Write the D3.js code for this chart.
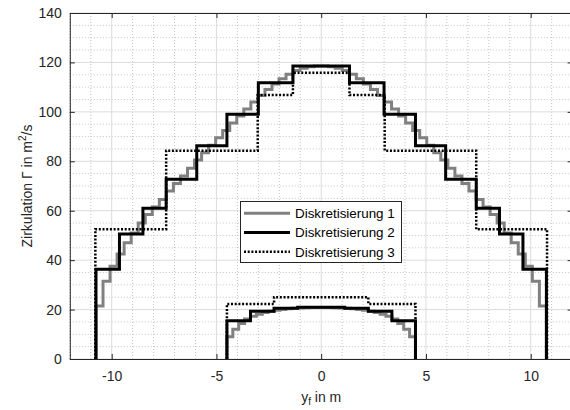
<!DOCTYPE html>
<html>
<head>
<meta charset="utf-8">
<script src="https://cdn.jsdelivr.net/npm/d3@7"></script>
<style>
  html, body { margin: 0; padding: 0; background: #ffffff; }
  svg { display: block; font-family: "Liberation Sans", Arial, Helvetica, sans-serif; }
</style>
</head>
<body>
<svg id="chart" width="570" height="410"></svg>
<script>
// Circulation distribution along the span, three discretisations (panel edges in m, circulation in m^2/s)

// Discretisation 1 – fine panels, main wing
const d1OuterEdges = [-10.75, -10.414, -10.078, -9.742, -9.406, -9.07, -8.734, -8.398, -8.062, -7.726, -7.39,
  -7.054, -6.718, -6.382, -6.046, -5.71, -5.374, -5.038, -4.702, -4.366, -4.03, -3.694, -3.358, -3.022,
  -2.686, -2.35, -2.014, -1.678, -1.342, -1.006, -0.67, -0.334, 0,
  0.334, 0.67, 1.006, 1.342, 1.678, 2.014, 2.35, 2.686, 3.022, 3.358, 3.694, 4.03, 4.366, 4.702, 5.038,
  5.374, 5.71, 6.046, 6.382, 6.718, 7.054, 7.39, 7.726, 8.062, 8.398, 8.734, 9.07, 9.406, 9.742, 10.078,
  10.414, 10.75];
const d1OuterGamma = [21.4, 31.5, 37.5, 42.5, 47, 51, 55, 58.5, 61.5, 64.5, 68, 71, 74, 77.2, 80.5, 83.5,
  86.5, 89.5, 92.5, 95.5, 98.3, 101.2, 104, 106.6, 109, 111.3, 113.4, 115.2, 116.7, 117.6, 118.3, 118.6,
  118.6, 118.3, 117.6, 116.7, 115.2, 113.4, 111.3, 109, 106.6, 104, 101.2, 98.3, 95.5, 92.5, 89.5, 86.5,
  83.5, 80.5, 77.2, 74, 71, 68, 64.5, 61.5, 58.5, 55, 51, 47, 42.5, 37.5, 31.5, 21.4];

// Discretisation 1 – fine panels, inner surface
const d1InnerEdges = [-4.5, -4.219, -3.938, -3.656, -3.375, -3.094, -2.813, -2.531, -2.25, -1.969, -1.688,
  -1.406, -1.125, -0.844, -0.563, -0.281, 0, 0.281, 0.563, 0.844, 1.125, 1.406, 1.688, 1.969, 2.25,
  2.531, 2.813, 3.094, 3.375, 3.656, 3.938, 4.219, 4.5];
const d1InnerGamma = [9.0, 12.0, 14.4, 16.2, 17.3, 18.1, 18.8, 19.3, 19.7, 20.0, 20.3, 20.5, 20.6, 20.7,
  20.8, 20.8, 20.8, 20.8, 20.7, 20.6, 20.5, 20.3, 20.0, 19.7, 19.3, 18.8, 18.1, 17.3, 16.2, 14.4, 12.0, 9.0];

// Discretisation 2
const d2OuterEdges = [-10.75, -9.63, -8.51, -7.40, -5.94, -4.50, -3.00, -1.35, 1.35, 3.00, 4.50, 5.94,
  7.40, 8.51, 9.63, 10.75];
const d2OuterGamma = [36.3, 50.6, 61.0, 72.7, 86.3, 99.0, 111.8, 118.6, 111.8, 99.0, 86.3, 72.7, 61.0,
  50.6, 36.3];
const d2InnerEdges = [-4.5, -3.375, -2.25, -1.125, 0, 1.125, 2.25, 3.375, 4.5];
const d2InnerGamma = [15.5, 19.3, 20.5, 20.9, 20.9, 20.5, 19.3, 15.5];

// Discretisation 3
const d3OuterEdges = [-10.78, -7.40, -3.03, -1.35, 1.35, 3.03, 7.40, 10.78];
const d3OuterGamma = [52.5, 84.3, 106.8, 115.8, 106.8, 84.3, 52.5];
const d3InnerEdges = [-4.5, -2.25, 2.25, 4.5];
const d3InnerGamma = [22.3, 25.0, 22.3];

const seriesNames = ["Diskretisierung 1", "Diskretisierung 2", "Diskretisierung 3"];
const xTicks = [-10, -5, 0, 5, 10];
const yTicks = [0, 20, 40, 60, 80, 100, 120, 140];

// ---------- layout ----------
const svg = d3.select("#chart");
const axisColor = "#262626";
const fontSize = 14;

const x = d3.scaleLinear().domain([-12, 12]).range([69.8, 572.6]);
const y = d3.scaleLinear().domain([0, 140]).range([359, 13]);
const [x0, x1] = x.range();
const [yb, yt] = y.range();

// ---------- grid ----------
const grid = svg.append("g");
// minor grid (dotted)
grid.selectAll(".mx").data(d3.range(-12, 12.01, 1).filter(v => !xTicks.includes(v)))
  .join("line")
  .attr("x1", d => x(d)).attr("x2", d => x(d)).attr("y1", yt).attr("y2", yb)
  .attr("stroke", "#c4c4c4").attr("stroke-width", 1).attr("stroke-dasharray", "1,2");
grid.selectAll(".my").data(d3.range(0, 140.01, 5).filter(v => !yTicks.includes(v)))
  .join("line")
  .attr("x1", x0).attr("x2", x1).attr("y1", d => y(d)).attr("y2", d => y(d))
  .attr("stroke", "#c4c4c4").attr("stroke-width", 1).attr("stroke-dasharray", "1,2");
// major grid
grid.selectAll(".gx").data(xTicks).join("line")
  .attr("x1", d => x(d)).attr("x2", d => x(d)).attr("y1", yt).attr("y2", yb)
  .attr("stroke", "#dcdcdc").attr("stroke-width", 1);
grid.selectAll(".gy").data(yTicks).join("line")
  .attr("x1", x0).attr("x2", x1).attr("y1", d => y(d)).attr("y2", d => y(d))
  .attr("stroke", "#dcdcdc").attr("stroke-width", 1);

// ---------- step lines ----------
function stairPoints(edges, vals) {
  const pts = [[edges[0], 0]];
  vals.forEach((v, i) => { pts.push([edges[i], v]); pts.push([edges[i + 1], v]); });
  pts.push([edges[edges.length - 1], 0]);
  return pts;
}
const line = d3.line().x(d => x(d[0])).y(d => y(d[1]));

const styles = [
  { stroke: "#808080", width: 3, dash: null },
  { stroke: "#000000", width: 3, dash: null },
  { stroke: "#000000", width: 2.5, dash: "2,1.7" }
];
const groups = [
  [[d1OuterEdges, d1OuterGamma], [d1InnerEdges, d1InnerGamma]],
  [[d2OuterEdges, d2OuterGamma], [d2InnerEdges, d2InnerGamma]],
  [[d3OuterEdges, d3OuterGamma], [d3InnerEdges, d3InnerGamma]]
];
groups.forEach((parts, i) => {
  parts.forEach(([e, v]) => {
    svg.append("path")
      .attr("d", line(stairPoints(e, v)))
      .attr("fill", "none")
      .attr("stroke", styles[i].stroke)
      .attr("stroke-width", styles[i].width)
      .attr("stroke-dasharray", styles[i].dash)
      .attr("stroke-linejoin", "miter")
      .attr("stroke-linecap", "butt");
  });
});

// ---------- axes ----------
function styleAxis(g) {
  g.select(".domain").attr("stroke", axisColor).attr("stroke-width", 1);
  g.selectAll(".tick line").attr("stroke", axisColor).attr("stroke-width", 1);
  g.selectAll(".tick text").attr("fill", axisColor).attr("font-size", fontSize)
    .attr("font-family", "Liberation Sans, Arial, sans-serif");
}
const fmt = d => (d < 0 ? "-" + Math.abs(d) : String(d));

svg.append("g").attr("transform", `translate(0,${yb})`)
  .call(d3.axisBottom(x).tickValues(xTicks).tickFormat(fmt).tickSizeInner(-5).tickSizeOuter(0).tickPadding(12))
  .call(styleAxis);
svg.append("g").attr("transform", `translate(0,${yt})`)
  .call(d3.axisTop(x).tickValues(xTicks).tickFormat("").tickSizeInner(-5).tickSizeOuter(0))
  .call(styleAxis);
svg.append("g").attr("transform", `translate(${x0},0)`)
  .call(d3.axisLeft(y).tickValues(yTicks).tickSizeInner(-5).tickSizeOuter(0).tickPadding(8))
  .call(styleAxis);
svg.append("g").attr("transform", `translate(${x1},0)`)
  .call(d3.axisRight(y).tickValues(yTicks).tickFormat("").tickSizeInner(-5).tickSizeOuter(0))
  .call(styleAxis);

// ---------- axis labels ----------
const xl = svg.append("text")
  .attr("x", x(0)).attr("y", 402)
  .attr("text-anchor", "middle").attr("font-size", fontSize).attr("fill", axisColor);
xl.append("tspan").text("y");
xl.append("tspan").attr("font-size", 10).attr("dy", 3).text("f");
xl.append("tspan").attr("dy", -3).text(" in m");

const yl = svg.append("text")
  .attr("transform", `translate(31.5,${(yt + yb) / 2}) rotate(-90)`)
  .attr("text-anchor", "middle").attr("font-size", fontSize).attr("fill", axisColor);
yl.append("tspan").text("Zirkulation Γ in m");
yl.append("tspan").attr("font-size", 10).attr("dy", -6).text("2");
yl.append("tspan").attr("dy", 6).text("/s");

// ---------- legend ----------
const lg = svg.append("g");
lg.append("rect")
  .attr("x", 240.5).attr("y", 201.5).attr("width", 161).attr("height", 61)
  .attr("fill", "#ffffff").attr("stroke", axisColor).attr("stroke-width", 1);
seriesNames.forEach((name, i) => {
  const cy = 213.3 + i * 19.2;
  lg.append("line")
    .attr("x1", 244).attr("x2", 290).attr("y1", cy).attr("y2", cy)
    .attr("stroke", styles[i].stroke).attr("stroke-width", styles[i].width)
    .attr("stroke-dasharray", styles[i].dash);
  lg.append("text")
    .attr("x", 295).attr("y", cy + 4.8)
    .attr("font-size", 13.4).attr("fill", "#000000")
    .text(name);
});
</script>
</body>
</html>
